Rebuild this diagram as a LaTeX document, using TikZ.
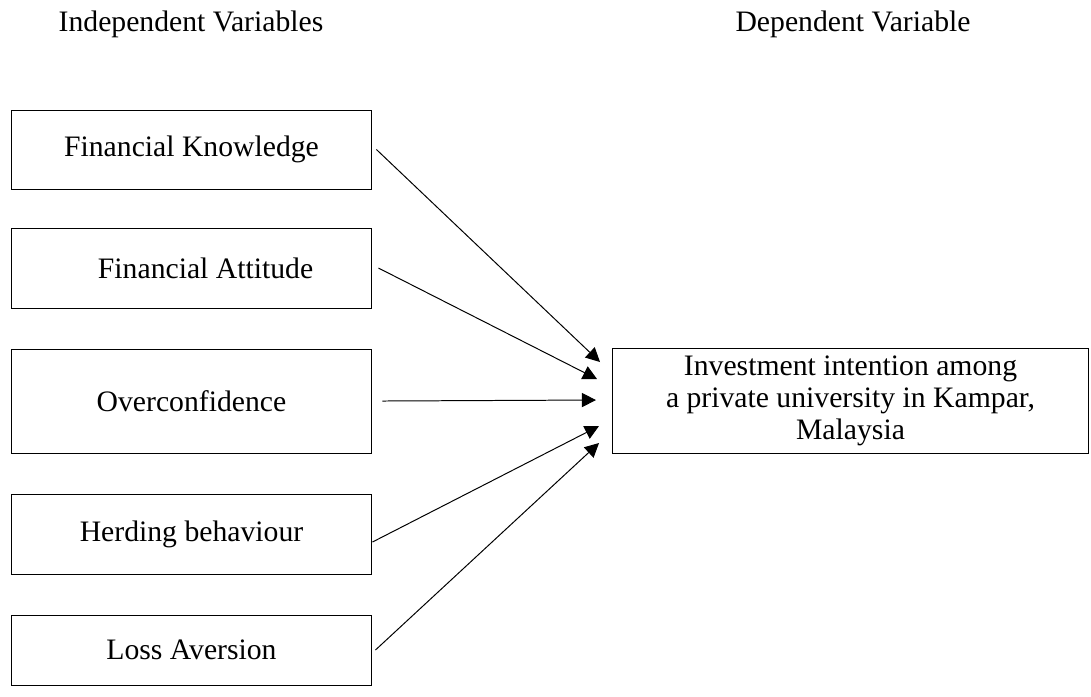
\documentclass[tikz,border=0pt]{standalone}
\usepackage{fontspec}
\setmainfont{Liberation Serif}
\usetikzlibrary{arrows.meta}
\begin{document}
\begin{tikzpicture}[x=0.0142cm,y=-0.0142cm,
    font=\fontsize{12}{13}\selectfont,
    varbox/.style={draw,thin,rectangle,inner sep=0pt,minimum width=5.126cm},
    arr/.style={thin,-{Triangle[length=0.2cm,width=0.2cm]}}]
    \useasboundingbox (0,0) rectangle (1091,696);
    % headings
    \node (hdrI) at (191,24) {Independent Variables};
    \node (hdrD) at (853,24) {Dependent Variable};
    % independent variables
    \node [varbox,minimum height=1.122cm] (fk) at (191.5,149.5) {Financial Knowledge};
    \node [varbox,minimum height=1.136cm] (fa) at (191.5,268) {\hspace*{0.4cm}Financial Attitude};
    \node [varbox,minimum height=1.477cm] (oc) at (191.5,401) {Overconfidence};
    \node [varbox,minimum height=1.136cm] (hb) at (191.5,534) {Herding behaviour};
    \node [varbox,minimum height=0.994cm] (la) at (191.5,650) {Loss Aversion};
    % dependent variable
    \node [draw,thin,rectangle,inner sep=0pt,minimum width=6.773cm,minimum height=1.505cm,
      align=center] (dep) at (850.5,401)
      {Investment intention among\\a private university in Kampar,\\Malaysia};
    % arrow tips
    \coordinate (t1) at (600,362);
    \coordinate (t2) at (597,379);
    \coordinate (t3) at (596,400);
    \coordinate (t4) at (599,426);
    \coordinate (t5) at (599,443);
    % arrows
    \draw [arr] ([xshift=0.057cm]fk.east) -- (t1);
    \draw [arr] ([xshift=0.085cm]fa.east) -- (t2);
    \draw [arr] ([xshift=0.142cm]oc.east) -- (t3);
    \draw [arr] ([yshift=-0.114cm]hb.east) -- (t4);
    \draw [arr] ([xshift=0.043cm]la.east) -- (t5);
\end{tikzpicture}
\end{document}
